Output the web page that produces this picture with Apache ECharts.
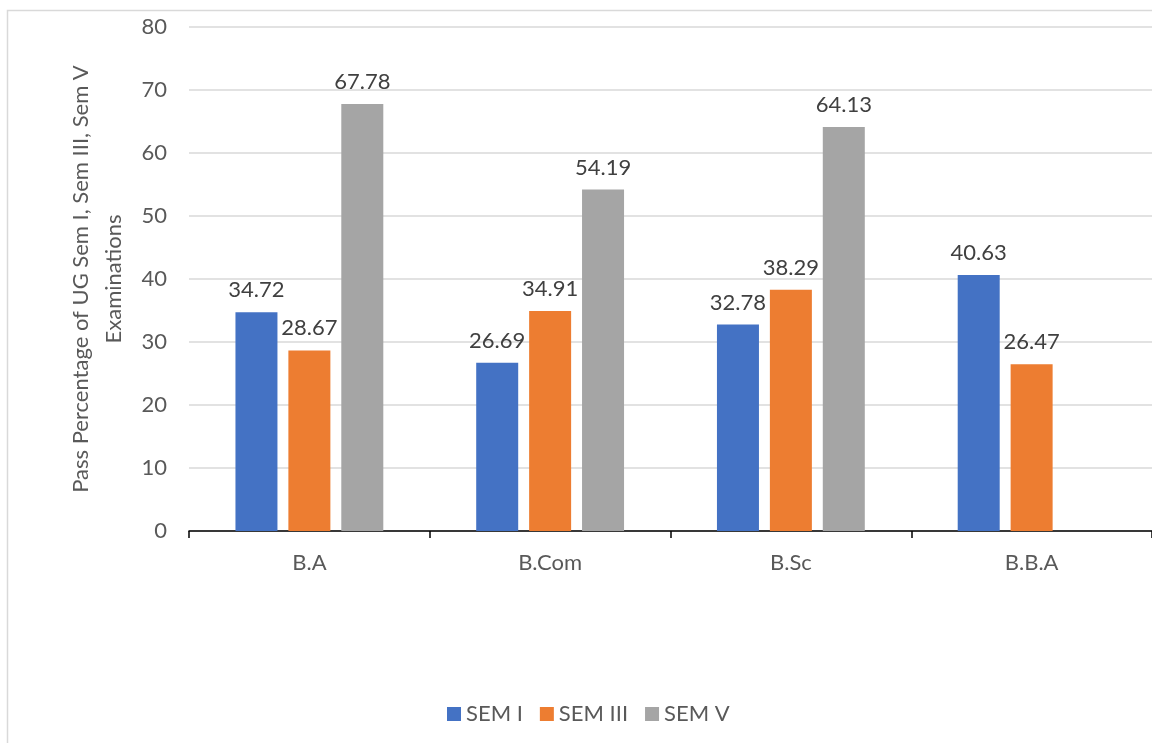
<!DOCTYPE html>
<html><head><meta charset="utf-8">
<script src="https://cdn.jsdelivr.net/npm/echarts@6/dist/echarts.min.js"></script>
<style>html,body{margin:0;padding:0;background:#fff}#c{width:1152px;height:743px}</style>
</head><body><div id="c"></div>
<script>
const categories = ['B.A', 'B.Com', 'B.Sc', 'B.B.A'];
const semI = [34.72, 26.69, 32.78, 40.63];
const semIII = [28.67, 34.91, 38.29, 26.47];
const semV = [67.78, 54.19, 64.13, null];
const seriesNames = ['SEM I', 'SEM III', 'SEM V'];
const yTitle = 'Pass Percentage of UG Sem I, Sem III, Sem V\nExaminations';

const FONT = 'Lato, "Open Sans", sans-serif';
const FS = 22;
const colors = ['#4472C4', '#ED7D31', '#A5A5A5'];
const chart = echarts.init(document.getElementById('c'));
function mk(name, data, i) {
  return {
    name, type: 'bar', data, barWidth: 42, barGap: '26%',
    itemStyle: { color: colors[i] },
    label: { show: true, position: 'top', distance: 11, color: '#404040', fontSize: FS, fontFamily: FONT,
      formatter: p => p.value == null ? '' : p.value.toFixed(2) }
  };
}
chart.setOption({
  animation: false,
  textStyle: { fontFamily: FONT },
  graphic: [{ type: 'rect', shape: { x: 7.5, y: 10.5, width: 1160, height: 750 }, style: { fill: 'none', stroke: '#d9d9d9', lineWidth: 1.5 }, silent: true }],
  grid: { left: 189, right: -7, top: 27, bottom: 212 },
  legend: { top: 698, left: 442, itemWidth: 14, itemHeight: 14, itemGap: 17, icon: 'rect',
    textStyle: { color: '#595959', fontSize: FS, fontFamily: FONT }, data: seriesNames },
  xAxis: { type: 'category', data: categories,
    axisLine: { lineStyle: { color: '#000', width: 1.5 } },
    axisTick: { show: true, length: 7, lineStyle: { color: '#000', width: 1.5 } },
    axisLabel: { color: '#595959', fontSize: FS, margin: 21, fontFamily: FONT } },
  yAxis: { type: 'value', min: 0, max: 80, interval: 10,
    name: yTitle, nameLocation: 'middle', nameRotate: 90, nameGap: 52,
    nameTextStyle: { color: '#595959', fontSize: FS, lineHeight: 33, fontFamily: FONT },
    axisLine: { show: false }, axisTick: { show: false },
    axisLabel: { color: '#595959', fontSize: FS, margin: 22, fontFamily: FONT },
    splitLine: { lineStyle: { color: '#d9d9d9', width: 1.5 } } },
  series: [mk(seriesNames[0], semI, 0), mk(seriesNames[1], semIII, 1), mk(seriesNames[2], semV, 2)]
});
</script></body></html>
